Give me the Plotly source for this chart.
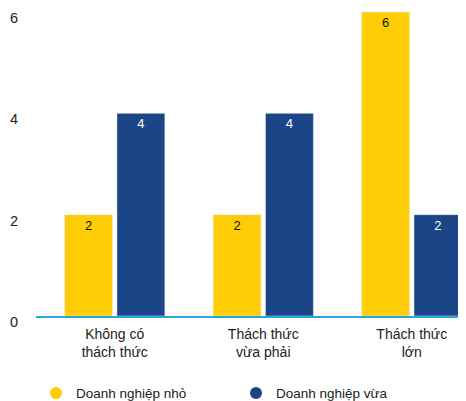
import plotly.graph_objects as go

categories = ["Không có<br>thách thức", "Thách thức<br>vừa phải", "Thách thức<br>lớn"]
series_names = ["Doanh nghiệp nhỏ", "Doanh nghiệp vừa"]
small_values = [2, 2, 6]
medium_values = [4, 4, 2]
y_ticks = [0, 2, 4, 6]

yellow = "#FFCD05"
blue = "#1C4587"

fig = go.Figure()
fig.add_trace(go.Bar(x=categories, y=small_values, name=series_names[0], marker_color=yellow,
                     text=small_values, textposition="inside", insidetextanchor="end",
                     textfont=dict(color="#111111", size=13), showlegend=False))
fig.add_trace(go.Bar(x=categories, y=medium_values, name=series_names[1], marker_color=blue,
                     text=medium_values, textposition="inside", insidetextanchor="end",
                     textfont=dict(color="#ffffff", size=13), showlegend=False))
# legend entries with circle markers
fig.add_trace(go.Scatter(x=[None], y=[None], mode="markers", name=series_names[0],
                         marker=dict(color=yellow, size=17, symbol="circle")))
fig.add_trace(go.Scatter(x=[None], y=[None], mode="markers", name=series_names[1],
                         marker=dict(color=blue, size=17, symbol="circle")))

fig.update_layout(
    width=458, height=393,
    margin=dict(l=28, r=0, t=0, b=85),
    paper_bgcolor="white", plot_bgcolor="white",
    font=dict(family="Liberation Sans, Arial, sans-serif", color="#222222", size=13),
    barmode="group", bargap=0.295, bargroupgap=0.085,
    uniformtext=dict(minsize=8, mode="show"),
    legend=dict(orientation="h", x=0.0, y=0.02, xref="paper", yref="container",
                xanchor="left", yanchor="middle",
                entrywidth=155, entrywidthmode="pixels", font=dict(size=13.5),
                itemsizing="constant", itemwidth=30),
)
fig.update_xaxes(range=[-0.53, 2.365], showline=True, linecolor="#29A8E0", linewidth=1.5,
                 ticks="", tickfont=dict(size=14, color="#222222"), showgrid=False,
                 ticklabelstandoff=4)
fig.update_yaxes(range=[0, 6.08], tickvals=y_ticks, showgrid=False, zeroline=False,
                 showline=False, ticks="", tickfont=dict(size=14.5, color="#222222"),
                 ticklabelstandoff=17, ticklabelshift=6)

fig.write_html("out.html")
